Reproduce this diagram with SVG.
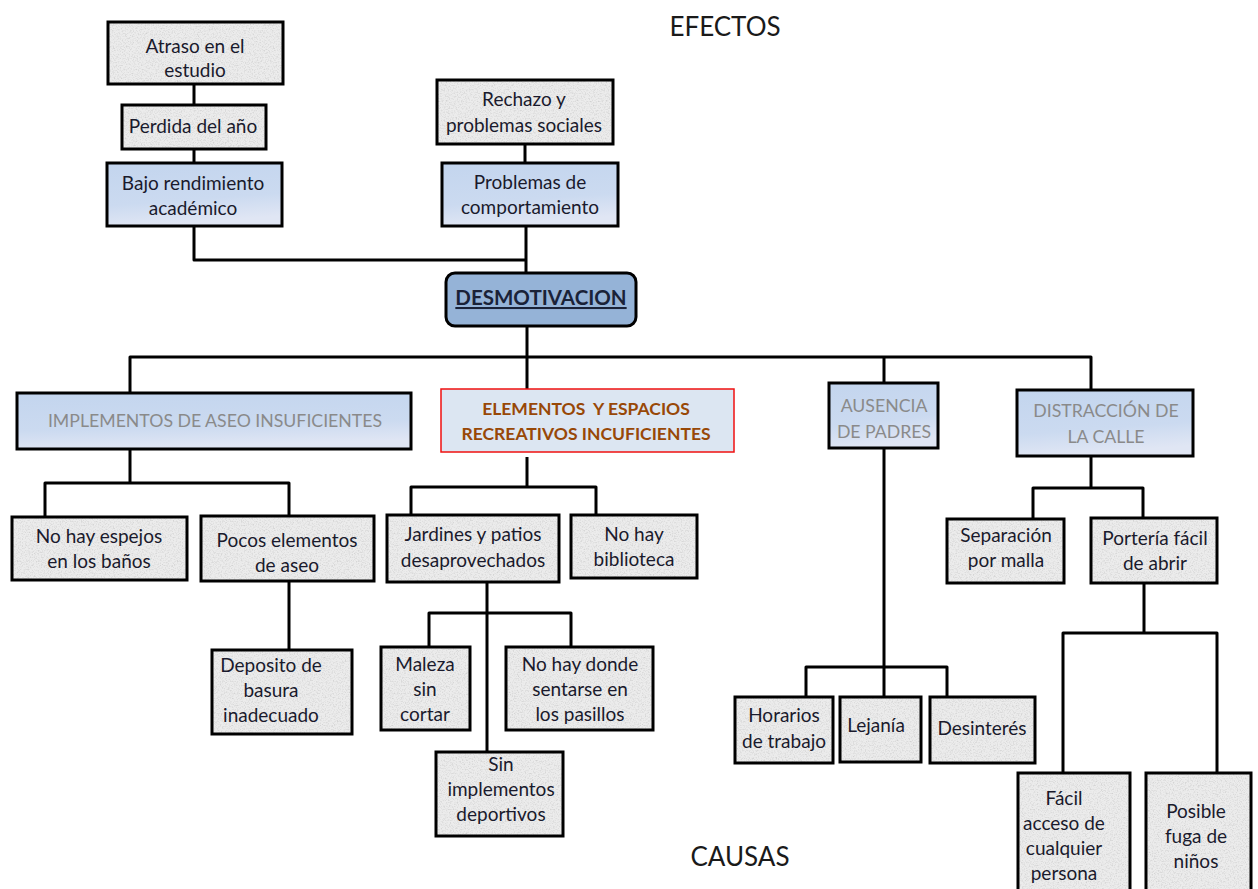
<svg xmlns="http://www.w3.org/2000/svg" width="1258" height="889" viewBox="0 0 1258 889">
<style>
.t{font-family:Lato,"Liberation Sans",sans-serif;font-size:19px;fill:#1a1a2c;text-anchor:middle}
.h{font-family:Lato,"Liberation Sans",sans-serif;font-size:17.7px;fill:#8a8a8a;text-anchor:middle}
.e{font-family:Lato,"Liberation Sans",sans-serif;font-size:17.5px;font-weight:bold;fill:#984807;text-anchor:middle}
.g{fill:url(#granite);stroke:#000;stroke-width:3}
.b{fill:url(#blue);stroke:#000;stroke-width:3}
.c{fill:none;stroke:#000;stroke-width:3;stroke-linejoin:round}
.title{font-family:Lato,"Liberation Sans",sans-serif;font-size:26px;fill:#1a1a1a;text-anchor:middle}
</style>
<defs>
<filter id="speck" x="0" y="0" width="1" height="1">
<feTurbulence type="fractalNoise" baseFrequency="0.75" numOctaves="3" seed="7" result="n"/>
<feColorMatrix in="n" type="matrix" values="0 0 0 0 0.55 0 0 0 0 0.55 0 0 0 0 0.55 1.6 0 0 0 -0.72"/>
</filter>
<pattern id="granite" patternUnits="userSpaceOnUse" width="160" height="160">
<rect width="160" height="160" fill="#ececec"/>
<rect width="160" height="160" fill="#fff" filter="url(#speck)"/>
</pattern>
<linearGradient id="blue" x1="0" y1="0" x2="0.2" y2="1">
<stop offset="0" stop-color="#c3d5ee"/>
<stop offset="0.65" stop-color="#cbdaf0"/>
<stop offset="1" stop-color="#e0e6f4"/>
</linearGradient>
</defs>
<rect width="1258" height="889" fill="#fff"/>
<text class="title" x="725" y="36">EFECTOS</text>
<text class="title" x="740" y="866">CAUSAS</text>

<g id="connectors">
<path class="c" d="M194 84V105M194 149V163M525 144V163"/>
<path class="c" d="M194 226V260H526V273M526 226V260"/>
<path class="c" d="M527 326V357M130 393V357H1091V390M527 357V389M884 357V383"/>
<path class="c" d="M130 449V483M45 517V483H289V516M289 581V650"/>
<path class="c" d="M527 457V487M411 515V487H596V515M487 582V752M429 647V613H571V647"/>
<path class="c" d="M884 448V697M806 697V667H947V697"/>
<path class="c" d="M1091 456V488M1033 519V488H1143V518M1144 583V633M1063 773V633H1217V773"/>
</g>

<g id="atraso"><rect class="g" x="108" y="22" width="175" height="62"/><text class="t" x="195" y="53">Atraso en el</text><text class="t" x="195" y="77">estudio</text></g>
<g id="perdida"><rect class="g" x="122" y="105" width="144" height="44"/><text class="t" x="193" y="133">Perdida del año</text></g>
<g id="bajo"><rect class="b" x="107" y="163" width="175" height="63"/><text class="t" x="193" y="190">Bajo rendimiento</text><text class="t" x="193" y="215">académico</text></g>
<g id="rechazo"><rect class="g" x="437" y="80" width="176" height="64"/><text class="t" x="524" y="106">Rechazo y</text><text class="t" x="524" y="132">problemas sociales</text></g>
<g id="comportamiento"><rect class="b" x="442" y="163" width="176" height="63"/><text class="t" x="530" y="189">Problemas de</text><text class="t" x="530" y="214">comportamiento</text></g>

<g id="desmotivacion"><rect x="446" y="273" width="190" height="53" rx="9" fill="#95b3d7" stroke="#000" stroke-width="3"/><text x="541" y="305" text-anchor="middle" font-family="Lato,'Liberation Sans',sans-serif" font-size="20.5" font-weight="bold" fill="#1a2238" text-decoration="underline">DESMOTIVACION</text></g>

<g id="implementos"><rect class="b" x="17" y="393" width="394" height="56"/><text class="h" x="215" y="427">IMPLEMENTOS DE ASEO INSUFICIENTES</text></g>
<g id="elementos"><rect x="441" y="389" width="293" height="63" fill="#dce6f2" stroke="#f01010" stroke-width="1.5"/><text class="e" x="586" y="415" xml:space="preserve">ELEMENTOS  Y ESPACIOS</text><text class="e" x="586" y="440">RECREATIVOS INCUFICIENTES</text></g>
<g id="ausencia"><rect class="b" x="829" y="383" width="109" height="65"/><text class="h" x="884" y="412">AUSENCIA</text><text class="h" x="884" y="438">DE PADRES</text></g>
<g id="distraccion"><rect class="b" x="1017" y="390" width="176" height="66"/><text class="h" x="1106" y="417">DISTRACCIÓN DE</text><text class="h" x="1106" y="443">LA CALLE</text></g>

<g id="espejos"><rect class="g" x="12" y="517" width="175" height="63"/><text class="t" x="99" y="543">No hay espejos</text><text class="t" x="99" y="568">en los  baños</text></g>
<g id="pocos"><rect class="g" x="201" y="516" width="173" height="65"/><text class="t" x="287" y="547">Pocos elementos</text><text class="t" x="287" y="572">de aseo</text></g>
<g id="deposito"><rect class="g" x="212" y="650" width="140" height="84"/><text class="t" x="271" y="672">Deposito de</text><text class="t" x="271" y="697">basura</text><text class="t" x="271" y="722">inadecuado</text></g>
<g id="jardines"><rect class="g" x="387" y="515" width="172" height="67"/><text class="t" x="473" y="541">Jardines y patios</text><text class="t" x="473" y="567">desaprovechados</text></g>
<g id="biblioteca"><rect class="g" x="571" y="515" width="126" height="63"/><text class="t" x="634" y="541">No hay</text><text class="t" x="634" y="566">biblioteca</text></g>
<g id="maleza"><rect class="g" x="381" y="647" width="89" height="83"/><text class="t" x="425" y="671">Maleza</text><text class="t" x="425" y="696">sin</text><text class="t" x="425" y="721">cortar</text></g>
<g id="sentarse"><rect class="g" x="506" y="647" width="147" height="83"/><text class="t" x="580" y="671">No hay donde</text><text class="t" x="580" y="696">sentarse en</text><text class="t" x="580" y="721">los pasillos</text></g>
<g id="deportivos"><rect class="g" x="436" y="752" width="127" height="84"/><text class="t" x="501" y="771">Sin</text><text class="t" x="501" y="796">implementos</text><text class="t" x="501" y="821">deportivos</text></g>

<g id="horarios"><rect class="g" x="735" y="697" width="98" height="66"/><text class="t" x="784" y="722">Horarios</text><text class="t" x="784" y="748">de trabajo</text></g>
<g id="lejania"><rect class="g" x="840" y="697" width="81" height="65"/><text class="t" x="876" y="732">Lejanía</text></g>
<g id="desinteres"><rect class="g" x="930" y="697" width="105" height="66"/><text class="t" x="982" y="735">Desinterés</text></g>

<g id="separacion"><rect class="g" x="947" y="519" width="117" height="64"/><text class="t" x="1006" y="542">Separación</text><text class="t" x="1006" y="567">por malla</text></g>
<g id="porteria"><rect class="g" x="1091" y="518" width="126" height="65"/><text class="t" x="1155" y="545">Portería fácil</text><text class="t" x="1155" y="570">de abrir</text></g>
<g id="facil"><rect class="g" x="1018" y="773" width="112" height="130"/><text class="t" x="1064" y="805">Fácil</text><text class="t" x="1064" y="830">acceso de</text><text class="t" x="1064" y="855">cualquier</text><text class="t" x="1064" y="880">persona</text></g>
<g id="posible"><rect class="g" x="1146" y="773" width="105" height="130"/><text class="t" x="1196" y="818">Posible</text><text class="t" x="1196" y="843">fuga de</text><text class="t" x="1196" y="868">niños</text></g>
</svg>
